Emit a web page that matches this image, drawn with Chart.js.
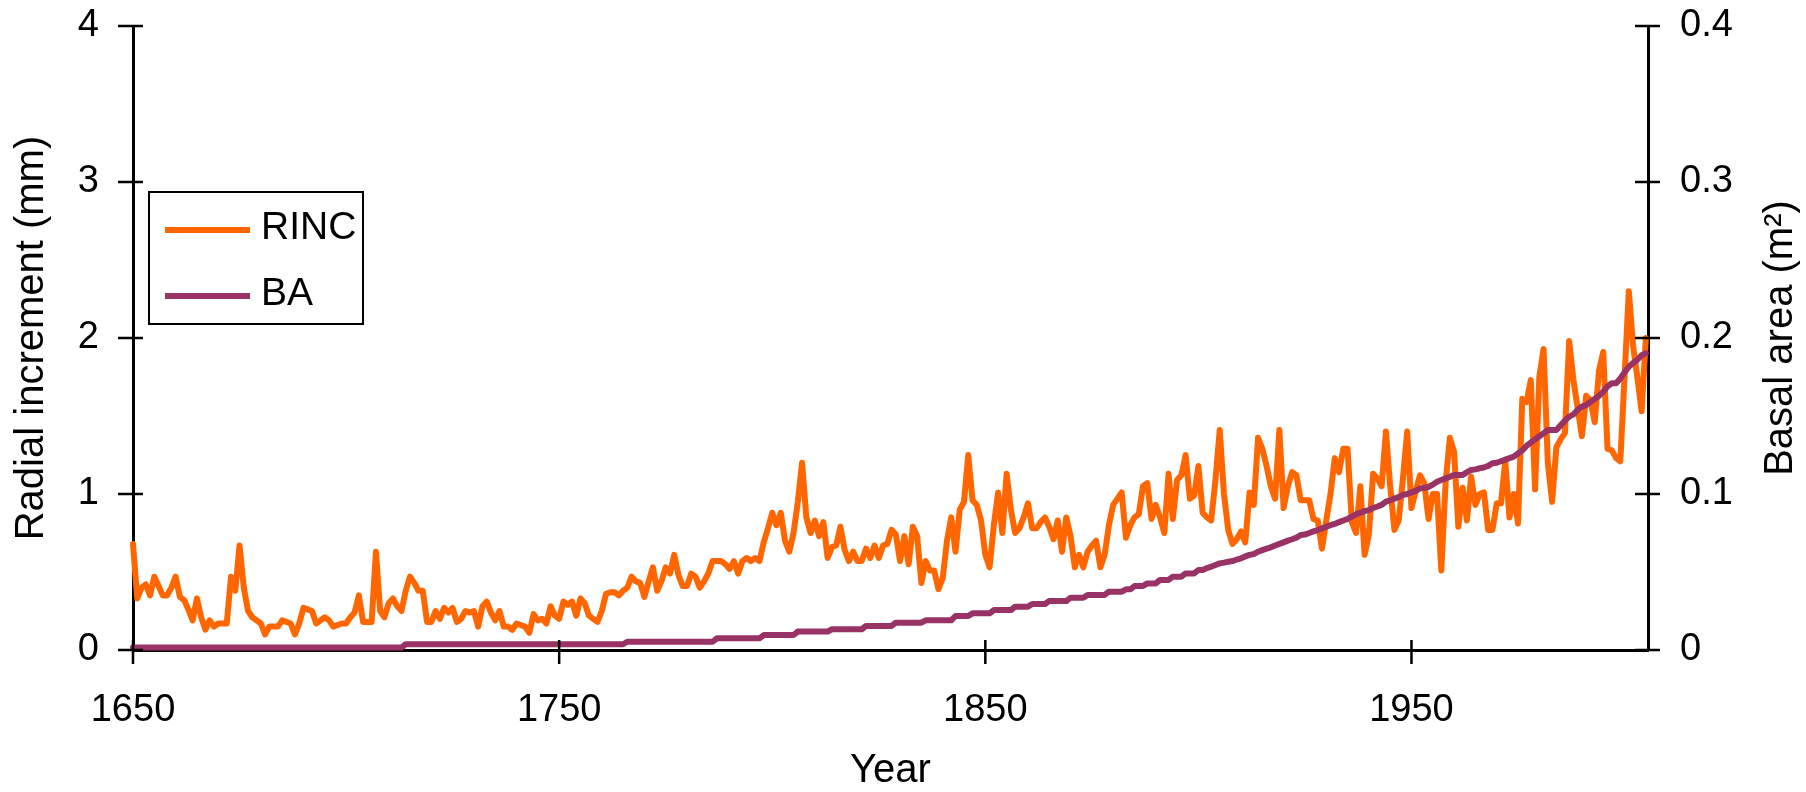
<!DOCTYPE html>
<html>
<head>
<meta charset="utf-8">
<title>RINC and BA</title>
<script src="https://cdn.jsdelivr.net/npm/chart.js@4.4.0/dist/chart.umd.min.js"></script>
<style>
  html, body { margin: 0; padding: 0; background: #fff; }
  #wrap { width: 1806px; height: 792px; position: relative; }
</style>
</head>
<body>
<div id="wrap"><canvas id="graph"></canvas></div>
<script>
// Yearly values, first year 1650, last 2005
const firstYear = 1650;

// Radial increment (mm)
const rinc = [
  0.68, 0.33, 0.40, 0.42, 0.35, 0.47, 0.41, 0.35, 0.35, 0.40, // 1650
  0.47, 0.34, 0.32, 0.26, 0.19, 0.33, 0.21, 0.13, 0.19, 0.15, // 1660
  0.17, 0.17, 0.17, 0.47, 0.38, 0.67, 0.40, 0.25, 0.21, 0.19, // 1670
  0.17, 0.10, 0.15, 0.15, 0.15, 0.19, 0.18, 0.17, 0.10, 0.17, // 1680
  0.27, 0.26, 0.25, 0.17, 0.19, 0.21, 0.19, 0.15, 0.16, 0.17, // 1690
  0.17, 0.21, 0.24, 0.35, 0.18, 0.18, 0.18, 0.63, 0.25, 0.21, // 1700
  0.30, 0.33, 0.28, 0.25, 0.38, 0.47, 0.43, 0.38, 0.38, 0.18, // 1710
  0.18, 0.25, 0.20, 0.27, 0.24, 0.27, 0.18, 0.20, 0.25, 0.24, // 1720
  0.25, 0.15, 0.28, 0.31, 0.24, 0.19, 0.25, 0.15, 0.15, 0.13, // 1730
  0.17, 0.16, 0.15, 0.11, 0.23, 0.19, 0.20, 0.17, 0.28, 0.22, // 1740
  0.20, 0.31, 0.29, 0.31, 0.22, 0.33, 0.30, 0.22, 0.20, 0.18, // 1750
  0.25, 0.36, 0.37, 0.37, 0.35, 0.38, 0.40, 0.47, 0.44, 0.43, // 1760
  0.34, 0.44, 0.53, 0.38, 0.44, 0.53, 0.49, 0.61, 0.48, 0.41, // 1770
  0.41, 0.49, 0.47, 0.40, 0.44, 0.49, 0.57, 0.57, 0.57, 0.55, // 1780
  0.52, 0.57, 0.49, 0.57, 0.59, 0.57, 0.59, 0.57, 0.69, 0.78, // 1790
  0.88, 0.80, 0.88, 0.70, 0.63, 0.75, 0.95, 1.20, 0.85, 0.75, // 1800
  0.83, 0.73, 0.82, 0.59, 0.66, 0.67, 0.79, 0.64, 0.57, 0.63, // 1810
  0.57, 0.57, 0.65, 0.59, 0.67, 0.59, 0.67, 0.68, 0.77, 0.74, // 1820
  0.57, 0.73, 0.55, 0.79, 0.73, 0.43, 0.57, 0.51, 0.51, 0.39, // 1830
  0.46, 0.70, 0.85, 0.63, 0.90, 0.95, 1.25, 0.96, 0.93, 0.83, // 1840
  0.61, 0.53, 0.80, 1.01, 0.75, 1.13, 0.90, 0.75, 0.78, 0.85, // 1850
  0.94, 0.78, 0.78, 0.82, 0.85, 0.79, 0.71, 0.83, 0.63, 0.85, // 1860
  0.73, 0.53, 0.61, 0.53, 0.63, 0.67, 0.70, 0.53, 0.61, 0.80, // 1870
  0.93, 0.97, 1.01, 0.72, 0.80, 0.85, 0.87, 1.05, 1.07, 0.84, // 1880
  0.93, 0.85, 0.75, 1.13, 0.84, 1.09, 1.12, 1.25, 0.97, 0.99, // 1890
  1.18, 0.88, 0.85, 0.83, 1.09, 1.41, 1.00, 0.77, 0.68, 0.71, // 1900
  0.76, 0.69, 1.01, 0.93, 1.36, 1.29, 1.18, 1.05, 0.97, 1.41, // 1910
  0.91, 1.05, 1.14, 1.12, 0.96, 0.96, 0.96, 0.84, 0.83, 0.65, // 1920
  0.83, 1.00, 1.23, 1.14, 1.29, 1.29, 0.82, 0.75, 1.05, 0.61, // 1930
  0.74, 1.13, 1.10, 1.05, 1.40, 1.05, 0.77, 0.83, 1.10, 1.40, // 1940
  0.91, 1.02, 1.12, 1.07, 0.84, 1.00, 1.00, 0.51, 1.07, 1.36, // 1950
  1.27, 0.79, 1.04, 0.83, 1.11, 0.93, 1.00, 1.01, 0.77, 0.77, // 1960
  0.94, 0.94, 1.21, 0.85, 1.00, 0.81, 1.61, 1.59, 1.73, 1.03, // 1970
  1.75, 1.93, 1.20, 0.95, 1.30, 1.35, 1.39, 1.98, 1.73, 1.55, // 1980
  1.37, 1.63, 1.60, 1.46, 1.79, 1.91, 1.29, 1.28, 1.23, 1.21, // 1990
  1.75, 2.30, 1.95, 1.75, 1.53, 2.00                          // 2000
];

// Basal area (m2)
const ba = [
  0.0016, 0.0016, 0.0016, 0.0016, 0.0016, 0.0016, 0.0016, 0.0016, 0.0016, 0.0016, // 1650
  0.0016, 0.0016, 0.0016, 0.0016, 0.0016, 0.0016, 0.0016, 0.0016, 0.0016, 0.0016, // 1660
  0.0016, 0.0016, 0.0016, 0.0016, 0.0016, 0.0016, 0.0016, 0.0016, 0.0016, 0.0016, // 1670
  0.0016, 0.0016, 0.0016, 0.0016, 0.0016, 0.0016, 0.0016, 0.0016, 0.0016, 0.0016, // 1680
  0.0016, 0.0016, 0.0016, 0.0016, 0.0016, 0.0016, 0.0016, 0.0016, 0.0016, 0.0016, // 1690
  0.0016, 0.0016, 0.0016, 0.0016, 0.0016, 0.0016, 0.0016, 0.0016, 0.0016, 0.0016, // 1700
  0.0016, 0.0016, 0.0016, 0.0016, 0.0037, 0.0037, 0.0037, 0.0037, 0.0037, 0.0037, // 1710
  0.0037, 0.0037, 0.0037, 0.0037, 0.0037, 0.0037, 0.0037, 0.0037, 0.0037, 0.0037, // 1720
  0.0037, 0.0037, 0.0037, 0.0037, 0.0037, 0.0037, 0.0037, 0.0037, 0.0037, 0.0037, // 1730
  0.0037, 0.0037, 0.0037, 0.0037, 0.0037, 0.0037, 0.0037, 0.0037, 0.0037, 0.0037, // 1740
  0.0037, 0.0037, 0.0037, 0.0037, 0.0037, 0.0037, 0.0037, 0.0037, 0.0037, 0.0037, // 1750
  0.0037, 0.0037, 0.0037, 0.0037, 0.0037, 0.0037, 0.0053, 0.0053, 0.0053, 0.0053, // 1760
  0.0053, 0.0053, 0.0053, 0.0053, 0.0053, 0.0053, 0.0053, 0.0053, 0.0053, 0.0053, // 1770
  0.0053, 0.0053, 0.0053, 0.0053, 0.0053, 0.0053, 0.0053, 0.0075, 0.0075, 0.0075, // 1780
  0.0075, 0.0075, 0.0075, 0.0075, 0.0075, 0.0075, 0.0075, 0.0075, 0.0096, 0.0096, // 1790
  0.0096, 0.0096, 0.0096, 0.0096, 0.0096, 0.0096, 0.0118, 0.0118, 0.0118, 0.0118, // 1800
  0.0118, 0.0118, 0.0118, 0.0118, 0.0133, 0.0133, 0.0133, 0.0133, 0.0133, 0.0133, // 1810
  0.0133, 0.0133, 0.0154, 0.0154, 0.0154, 0.0154, 0.0154, 0.0154, 0.0154, 0.0175, // 1820
  0.0175, 0.0175, 0.0175, 0.0175, 0.0175, 0.0175, 0.0190, 0.0190, 0.0190, 0.0190, // 1830
  0.0190, 0.0190, 0.0190, 0.0218, 0.0218, 0.0218, 0.0218, 0.0235, 0.0235, 0.0235, // 1840
  0.0235, 0.0235, 0.0256, 0.0256, 0.0256, 0.0256, 0.0256, 0.0278, 0.0278, 0.0278, // 1850
  0.0278, 0.0295, 0.0295, 0.0295, 0.0295, 0.0314, 0.0314, 0.0314, 0.0314, 0.0314, // 1860
  0.0335, 0.0335, 0.0335, 0.0335, 0.0353, 0.0353, 0.0353, 0.0353, 0.0353, 0.0374, // 1870
  0.0374, 0.0374, 0.0374, 0.0389, 0.0389, 0.0410, 0.0410, 0.0410, 0.0427, 0.0427, // 1880
  0.0427, 0.0449, 0.0449, 0.0449, 0.0470, 0.0470, 0.0470, 0.0491, 0.0491, 0.0491, // 1890
  0.0513, 0.0513, 0.0525, 0.0534, 0.0545, 0.0555, 0.0560, 0.0566, 0.0570, 0.0580, // 1900
  0.0588, 0.0600, 0.0610, 0.0615, 0.0630, 0.0640, 0.0650, 0.0658, 0.0670, 0.0680, // 1910
  0.0690, 0.0701, 0.0710, 0.0720, 0.0737, 0.0740, 0.0750, 0.0760, 0.0769, 0.0780, // 1920
  0.0790, 0.0800, 0.0808, 0.0820, 0.0830, 0.0840, 0.0855, 0.0870, 0.0880, 0.0890, // 1930
  0.0897, 0.0910, 0.0920, 0.0930, 0.0951, 0.0960, 0.0970, 0.0980, 0.0994, 0.1000, // 1940
  0.1010, 0.1020, 0.1036, 0.1040, 0.1045, 0.1060, 0.1079, 0.1090, 0.1100, 0.1110, // 1950
  0.1122, 0.1122, 0.1122, 0.1140, 0.1154, 0.1158, 0.1165, 0.1170, 0.1180, 0.1197, // 1960
  0.1200, 0.1210, 0.1220, 0.1230, 0.1239, 0.1260, 0.1280, 0.1308, 0.1330, 0.1350, // 1970
  0.1370, 0.1389, 0.1410, 0.1410, 0.1410, 0.1440, 0.1470, 0.1496, 0.1510, 0.1540, // 1980
  0.1560, 0.1571, 0.1590, 0.1610, 0.1630, 0.1656, 0.1690, 0.1710, 0.1710, 0.1740, // 1990
  0.1780, 0.1816, 0.1840, 0.1860, 0.1890, 0.1902                                  // 2000
];

const xTicks = [1650, 1750, 1850, 1950];
const leftTicks = [0, 1, 2, 3, 4];
const rightTicks = [0, 0.1, 0.2, 0.3, 0.4];
const rightTickLabels = ['0', '0.1', '0.2', '0.3', '0.4'];

const years = rinc.map((v, i) => firstYear + i);

const FONT = "'Liberation Sans', Arial, sans-serif";
Chart.defaults.color = '#000';
Chart.defaults.font.family = FONT;

// ticks that cross the axis lines, like the original
const crossTicks = {
    id: 'crossTicks',
    afterDraw(chart) {
        const {ctx, chartArea: a, scales} = chart;
        ctx.save();
        ctx.strokeStyle = '#000';
        ctx.lineWidth = 2.5;
        ctx.beginPath();
        scales.y.ticks.forEach(t => {
            const p = scales.y.getPixelForValue(t.value);
            ctx.moveTo(a.left - 15, p);
            ctx.lineTo(a.left + 10, p);
        });
        scales.y2.ticks.forEach(t => {
            const p = scales.y2.getPixelForValue(t.value);
            ctx.moveTo(a.right - 13, p);
            ctx.lineTo(a.right + 12, p);
        });
        scales.x.ticks.forEach(t => {
            const p = scales.x.getPixelForValue(t.value);
            ctx.moveTo(p, a.bottom - 10);
            ctx.lineTo(p, a.bottom + 14);
        });
        ctx.stroke();
        ctx.restore();
    }
};

// boxed legend in the upper left of the plot
const legendBox = {
    id: 'legendBox',
    afterDraw(chart) {
        const {ctx, chartArea: a} = chart;
        const x0 = a.left + 16, y0 = a.top + 166, w = 214, h = 132;
        ctx.save();
        ctx.fillStyle = '#fff';
        ctx.fillRect(x0, y0, w, h);
        ctx.strokeStyle = '#000';
        ctx.lineWidth = 2;
        ctx.strokeRect(x0, y0, w, h);
        chart.data.datasets.forEach((ds, i) => {
            const yy = y0 + 38 + i * 66;
            ctx.strokeStyle = ds.borderColor;
            ctx.lineWidth = 6;
            ctx.beginPath();
            ctx.moveTo(x0 + 16, yy);
            ctx.lineTo(x0 + 101, yy);
            ctx.stroke();
            ctx.fillStyle = '#000';
            ctx.font = '39px ' + FONT;
            ctx.textBaseline = 'middle';
            ctx.textAlign = 'left';
            ctx.fillText(ds.label, x0 + 112, yy - 2);
        });
        ctx.restore();
    }
};

// right axis title reads bottom to top
const rightTitle = {
    id: 'rightTitle',
    afterDraw(chart) {
        const {ctx, chartArea: a} = chart;
        ctx.save();
        ctx.translate(a.right + 133, (a.top + a.bottom) / 2);
        ctx.rotate(-Math.PI / 2);
        ctx.font = '40px ' + FONT;
        ctx.fillStyle = '#000';
        ctx.textAlign = 'center';
        ctx.textBaseline = 'middle';
        ctx.fillText('Basal area (m\u00B2)', 0, 0);
        ctx.restore();
    }
};

const fixWidth = w => s => { s.width = w; s.paddingTop = 0; s.paddingBottom = 0; };

const ctx = document.getElementById('graph').getContext('2d');
const growthChart = new Chart(ctx, {
    type: 'line',
    data: {
        datasets: [{
            label: 'RINC',
            data: years.map((y, i) => ({x: y, y: rinc[i]})),
            yAxisID: 'y',
            borderColor: '#ff6600',
            borderWidth: 6,
            borderJoinStyle: 'round',
            borderCapStyle: 'round',
            pointRadius: 0,
            tension: 0,
            clip: false,
            order: 1
        }, {
            label: 'BA',
            data: years.map((y, i) => ({x: y, y: ba[i]})),
            yAxisID: 'y2',
            borderColor: '#993366',
            borderWidth: 6,
            borderJoinStyle: 'round',
            borderCapStyle: 'round',
            pointRadius: 0,
            tension: 0,
            clip: false,
            order: 0
        }]
    },
    options: {
        responsive: true,
        maintainAspectRatio: false,
        animation: false,
        layout: { padding: { top: 26, left: 0, right: 0, bottom: 0 } },
        plugins: {
            legend: { display: false },
            tooltip: { enabled: false }
        },
        scales: {
            x: {
                type: 'linear',
                min: 1650,
                max: 2005.5,
                afterBuildTicks: s => { s.ticks = xTicks.map(v => ({value: v})); },
                afterFit: s => { s.height = 142; s.paddingLeft = 0; s.paddingRight = 0; },
                grid: { display: false, drawTicks: false },
                border: { display: true, color: '#000', width: 3 },
                ticks: {
                    padding: 38,
                    maxRotation: 0,
                    autoSkip: false,
                    font: { size: 38 },
                    callback: v => String(v)
                },
                title: {
                    display: true,
                    text: 'Year',
                    font: { size: 40, lineHeight: 1 },
                    padding: { top: 0, bottom: 1 }
                }
            },
            y: {
                position: 'left',
                min: 0,
                max: 4,
                afterBuildTicks: s => { s.ticks = leftTicks.map(v => ({value: v})); },
                afterFit: fixWidth(133),
                grid: { display: false, drawTicks: false },
                border: { display: true, color: '#000', width: 3 },
                ticks: {
                    padding: 34,
                    font: { size: 38 },
                    callback: v => String(v)
                },
                title: {
                    display: true,
                    text: 'Radial increment (mm)',
                    font: { size: 40, lineHeight: 1 },
                    padding: { top: 12, bottom: 0 }
                }
            },
            y2: {
                position: 'right',
                min: 0,
                max: 0.4,
                afterBuildTicks: s => { s.ticks = rightTicks.map(v => ({value: v})); },
                afterFit: fixWidth(158),
                grid: { display: false, drawTicks: false },
                border: { display: true, color: '#000', width: 3 },
                ticks: {
                    padding: 32,
                    font: { size: 38 },
                    callback: (v, i) => rightTickLabels[i]
                }
            }
        }
    },
    plugins: [crossTicks, legendBox, rightTitle]
});
</script>
</body>
</html>
